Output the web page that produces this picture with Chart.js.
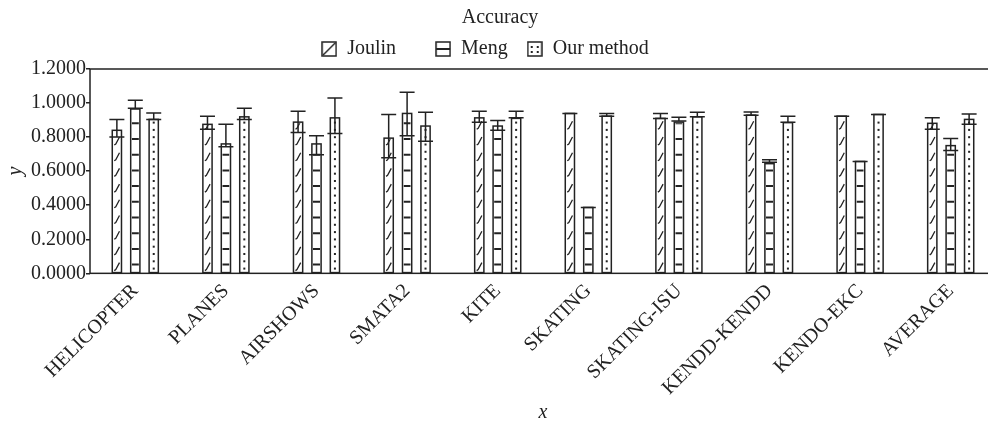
<!DOCTYPE html>
<html>
<head>
<meta charset="utf-8">
<script src="https://cdn.jsdelivr.net/npm/chart.js@4.4.0/dist/chart.umd.min.js"></script>
<style>
  body { margin: 0; overflow: hidden; background: #fff; }
  #wrap { width: 1000px; height: 423px; }
</style>
</head>
<body>
<div id="wrap"><canvas id="accChart"></canvas></div>
<script>
const categories = ['HELICOPTER', 'PLANES', 'AIRSHOWS', 'SMATA2', 'KITE', 'SKATING', 'SKATING-ISU', 'KENDD-KENDD', 'KENDO-EKC', 'AVERAGE'];
const yTicks = [0, 0.2, 0.4, 0.6, 0.8, 1.0, 1.2];

const joulin     = [0.840, 0.875, 0.888, 0.794, 0.913, 0.939, 0.910, 0.929, 0.923, 0.881];
const joulinLow  = [0.800, 0.846, 0.827, 0.679, 0.888, 0.939, 0.910, 0.929, 0.923, 0.846];
const joulinHigh = [0.904, 0.923, 0.952, 0.933, 0.952, 0.939, 0.939, 0.948, 0.923, 0.913];

const meng     = [0.965, 0.760, 0.760, 0.939, 0.865, 0.387, 0.888, 0.644, 0.657, 0.750];
const mengLow  = [0.970, 0.744, 0.696, 0.808, 0.840, 0.387, 0.894, 0.653, 0.657, 0.721];
const mengHigh = [1.016, 0.875, 0.808, 1.064, 0.898, 0.387, 0.917, 0.667, 0.657, 0.792];

const ours     = [0.904, 0.919, 0.913, 0.865, 0.910, 0.923, 0.919, 0.885, 0.933, 0.904];
const oursLow  = [0.904, 0.904, 0.821, 0.775, 0.913, 0.923, 0.919, 0.888, 0.933, 0.875];
const oursHigh = [0.942, 0.969, 1.029, 0.946, 0.952, 0.939, 0.946, 0.923, 0.933, 0.936];

const ink = '#222';
const serif = "'Liberation Serif', 'Times New Roman', serif";
const errors = [[joulinLow, joulinHigh], [mengLow, mengHigh], [oursLow, oursHigh]];

// fill decoration for each series: 0 hatch, 1 ladder, 2 dots
function decorate(ctx, kind, left, top, right, bottom) {
  ctx.save();
  ctx.beginPath();
  ctx.rect(left, top, right - left, bottom - top);
  ctx.clip();
  ctx.strokeStyle = ink;
  ctx.fillStyle = ink;
  if (kind === 0) {
    ctx.lineWidth = 1.3;
    for (let y = bottom - 2; y > top - 10; y -= 15.7) {
      ctx.beginPath();
      ctx.moveTo(left + 1, y);
      ctx.lineTo(left + 2.5, y - 1);
      ctx.lineTo(right - 1, y - 8);
      ctx.stroke();
    }
  } else if (kind === 1) {
    ctx.lineWidth = 2;
    for (let y = bottom - 8; y > top; y -= 15.7) {
      ctx.beginPath();
      ctx.moveTo(left, y);
      ctx.lineTo(right, y);
      ctx.stroke();
    }
  } else {
    const cx = (left + right) / 2;
    for (let y = bottom - 4; y > top + 1; y -= 7.3) {
      ctx.fillRect(cx - 1, y - 1, 2, 2);
    }
  }
  ctx.restore();
}

function legendIcon(kind) {
  const c = document.createElement('canvas');
  c.width = 16; c.height = 16;
  const g = c.getContext('2d');
  g.fillStyle = '#fff';
  g.fillRect(0, 0, 16, 16);
  g.strokeStyle = ink;
  g.fillStyle = ink;
  g.lineWidth = 1.5;
  g.strokeRect(1, 1, 14, 14);
  if (kind === 0) {
    g.beginPath(); g.moveTo(2, 14); g.lineTo(14, 2); g.stroke();
  } else if (kind === 1) {
    g.lineWidth = 2;
    g.beginPath(); g.moveTo(1, 8); g.lineTo(15, 8); g.stroke();
  } else {
    [[4, 5], [4, 10], [10, 5], [10, 10]].forEach(p => g.fillRect(p[0], p[1], 2, 2));
  }
  return c;
}
const icons = [legendIcon(0), legendIcon(1), legendIcon(2)];
// trailing spaces only widen the gaps between legend entries
const legendNames = ['Joulin     ', 'Meng ', 'Our method      '];

const barDecor = {
  id: 'barDecor',
  afterDatasetsDraw(chart) {
    const ctx = chart.ctx;
    const yScale = chart.scales.y;
    chart.data.datasets.forEach((ds, di) => {
      const meta = chart.getDatasetMeta(di);
      meta.data.forEach((bar, i) => {
        const p = bar.getProps(['x', 'y', 'base', 'width'], true);
        const l = p.x - p.width / 2, r = p.x + p.width / 2;
        decorate(ctx, di, l + 1, p.y + 1, r - 1, p.base);
        ctx.save();
        ctx.strokeStyle = ink;
        ctx.lineWidth = 1.5;
        ctx.strokeRect(l, p.y, p.width, p.base - p.y);
        // error bar
        const lo = yScale.getPixelForValue(errors[di][0][i]);
        const hi = yScale.getPixelForValue(errors[di][1][i]);
        ctx.beginPath();
        ctx.moveTo(p.x, lo); ctx.lineTo(p.x, hi);
        ctx.moveTo(p.x - 7.5, lo); ctx.lineTo(p.x + 7.5, lo);
        ctx.moveTo(p.x - 7.5, hi); ctx.lineTo(p.x + 7.5, hi);
        ctx.stroke();
        ctx.restore();
      });
    });
  },
  afterDraw(chart) {
    const a = chart.chartArea, ctx = chart.ctx;
    ctx.save();
    ctx.strokeStyle = ink;
    ctx.lineWidth = 1.5;
    ctx.strokeRect(a.left, a.top, a.right - a.left, a.bottom - a.top);
    ctx.restore();
  }
};

new Chart('accChart', {
  type: 'bar',
  data: {
    labels: categories,
    datasets: [
      { label: 'Joulin', data: joulin },
      { label: 'Meng', data: meng },
      { label: 'Our method', data: ours }
    ].map(d => Object.assign(d, {
      backgroundColor: '#fff',
      borderColor: ink,
      borderWidth: 0,
      categoryPercentage: 0.61,
      barPercentage: 0.5
    }))
  },
  options: {
    responsive: true,
    maintainAspectRatio: false,
    animation: false,
    layout: { padding: { left: 4, right: 4, top: 2, bottom: 0 } },
    plugins: {
      tooltip: { enabled: false },
      title: {
        display: true,
        text: 'Accuracy',
        color: ink,
        font: { family: serif, size: 20, weight: 'normal', lineHeight: 0.7 },
        padding: { top: 9, bottom: 0 }
      },
      legend: {
        position: 'top',
        labels: {
          color: ink,
          font: { family: serif, size: 20 },
          usePointStyle: true,
          boxWidth: 16,
          boxHeight: 16,
          padding: 14,
          generateLabels(chart) {
            return chart.data.datasets.map((ds, i) => ({
              text: legendNames[i],
              pointStyle: icons[i],
              fillStyle: '#fff',
              strokeStyle: ink,
              lineWidth: 0,
              fontColor: ink,
              datasetIndex: i
            }));
          }
        }
      }
    },
    scales: {
      x: {
        grid: { display: false, drawTicks: false },
        border: { display: false },
        ticks: {
          color: ink,
          font: { family: serif, size: 20 },
          maxRotation: 45,
          minRotation: 45,
          padding: 6
        },
        title: {
          display: true,
          text: 'x',
          color: ink,
          font: { family: serif, size: 20, style: 'italic', lineHeight: 1.0 },
          padding: { top: -3, bottom: 0 }
        }
      },
      y: {
        min: 0,
        max: 1.2,
        afterBuildTicks(scale) {
          scale.ticks = yTicks.map(v => ({ value: v }));
        },
        grid: { drawOnChartArea: false, drawTicks: true, tickLength: 4, color: ink, lineWidth: 1.5 },
        border: { display: false },
        ticks: {
          color: ink,
          font: { family: serif, size: 20 },
          padding: 0,
          callback: v => Number(v).toFixed(4)
        },
        title: {
          display: true,
          text: 'y',
          color: ink,
          font: { family: serif, size: 20, style: 'italic' },
          padding: { top: 0, bottom: 3 }
        }
      }
    }
  },
  plugins: [barDecor]
});
</script>
</body>
</html>
